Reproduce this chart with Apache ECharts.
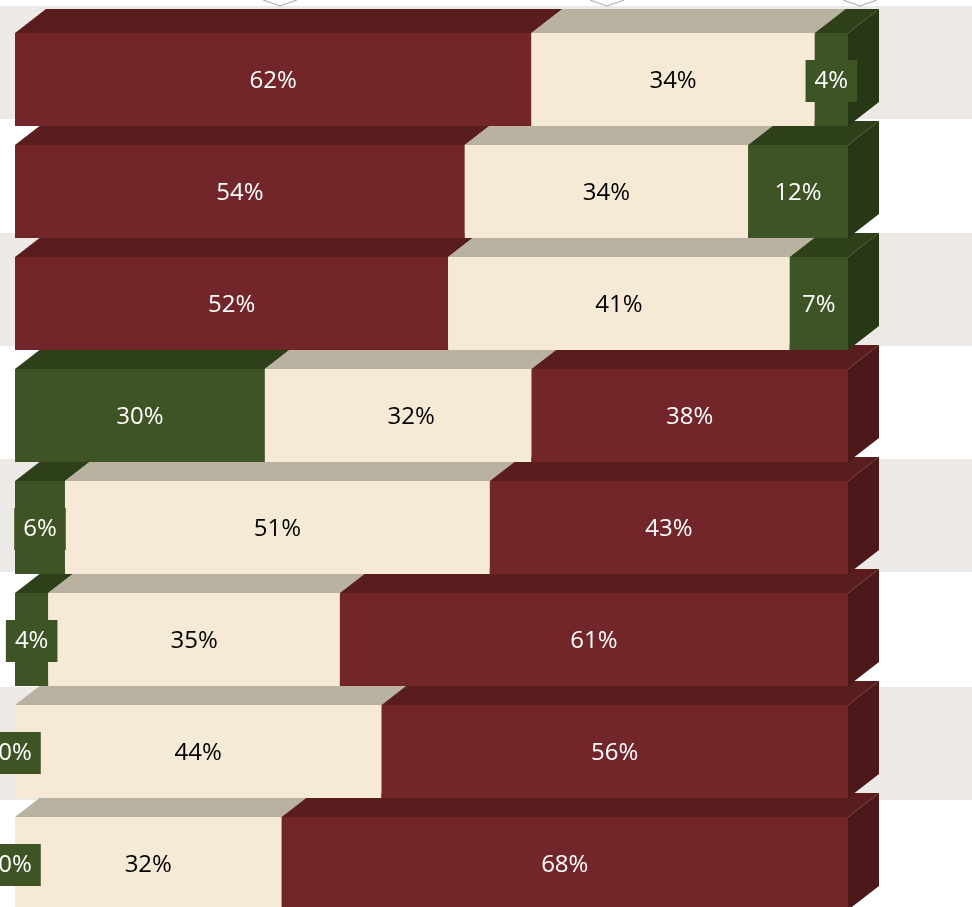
<!DOCTYPE html>
<html>
<head>
<meta charset="utf-8">
<script src="https://cdn.jsdelivr.net/npm/echarts@6/dist/echarts.min.js"></script>
<style>
  html, body { margin: 0; padding: 0; background: #ffffff; }
  #chart { width: 972px; height: 907px; }
</style>
</head>
<body>
<div id="chart"></div>
<script>
// Eight stacked 100% rows, top to bottom
const categories = ['1', '2', '3', '4', '5', '6', '7', '8'];
const redValues   = [62, 54, 52, 38, 43, 61, 56, 68];
const creamValues = [34, 34, 41, 32, 51, 35, 44, 32];
const greenValues = [4, 12, 7, 30, 6, 4, 0, 0];
// rows whose stack starts with the green segment
const greenFirst  = [false, false, false, true, true, true, true, true];

// face colours of the extruded segments
const palette = {
  red:   { front: '#732629', top: '#591D1E', side: '#4C1819', text: '#FFFFFF', box: false },
  cream: { front: '#F6EAD6', top: '#BAB2A0', side: '#A39B87', text: '#000000', box: false },
  green: { front: '#3E5424', top: '#2D4019', side: '#283814', text: '#FFFFFF', box: true }
};
const DEPTH_X = 31;   // extrusion offset to the right
const DEPTH_Y = 24;   // extrusion offset upwards
const LABEL_FONT = '24px "Open Sans", "Noto Sans", sans-serif';
// hand-placed label: row 4's middle label sits a little right of centre
const labelNudgeX = { '3-cream': 13 };

// alternating grey stripes behind the rows
const stripeTops = [6, 233, 459, 687];
const stripeHeight = 113;
// small outlined markers peeking in at the top edge
const markerCenters = [280, 607, 860];

function renderRow(params, api) {
  const i = api.value(0);
  const segs = greenFirst[i]
    ? [['green', greenValues[i]], ['cream', creamValues[i]], ['red', redValues[i]]]
    : [['red', redValues[i]], ['cream', creamValues[i]], ['green', greenValues[i]]];
  const bandSize = api.size([0, 1])[1];
  const h = bandSize * 0.83;
  const cy = api.coord([0, i])[1];
  const yTop = cy - h / 2;
  const yBot = cy + h / 2;

  const faces = [];
  const labels = [];
  let acc = 0;
  let lastKey = null;
  let endX = 0;

  segs.forEach(([key, v]) => {
    const x0 = api.coord([acc, i])[0];
    acc += v;
    const x1 = api.coord([acc, i])[0];
    const c = palette[key];
    if (v > 0) {
      faces.push({
        type: 'polygon',
        shape: { points: [[x0, yTop], [x1, yTop], [x1 + DEPTH_X, yTop - DEPTH_Y], [x0 + DEPTH_X, yTop - DEPTH_Y]] },
        style: { fill: c.top }
      });
      faces.push({
        type: 'rect',
        shape: { x: x0, y: yTop, width: x1 - x0, height: h },
        style: { fill: c.front }
      });
      lastKey = key;
      endX = x1;
    }
    labels.push({
      type: 'text',
      style: {
        text: v + '%',
        x: (x0 + x1) / 2 + (labelNudgeX[i + '-' + key] || 0),
        y: cy + 1.5,
        align: 'center',
        verticalAlign: 'middle',
        fill: c.text,
        font: LABEL_FONT,
        lineHeight: 24,
        backgroundColor: c.box ? c.front : 'transparent',
        padding: c.box ? [9, 9] : 0
      }
    });
  });

  if (lastKey) {
    faces.push({
      type: 'polygon',
      shape: { points: [[endX, yTop], [endX + DEPTH_X, yTop - DEPTH_Y], [endX + DEPTH_X, yBot - DEPTH_Y], [endX, yBot]] },
      style: { fill: palette[lastKey].side }
    });
  }

  return { type: 'group', children: faces.concat(labels) };
}

const chart = echarts.init(document.getElementById('chart'), null, { renderer: 'canvas' });

const graphicElements = [];
stripeTops.forEach(t => {
  graphicElements.push({
    type: 'rect', left: 0, top: t, z: -10,
    shape: { x: 0, y: 0, width: 972, height: stripeHeight },
    style: { fill: '#ECE9E6' }
  });
});
markerCenters.forEach(cx => {
  graphicElements.push({
    type: 'polyline', z: -5,
    shape: { points: [[cx - 17, 0], [cx, 6], [cx + 17, 0]] },
    style: { stroke: '#A8A8A8', lineWidth: 1, fill: null }
  });
});

chart.setOption({
  animation: false,
  backgroundColor: '#ffffff',
  grid: { left: 15, right: 124, top: 23.5, height: 896, outerBoundsMode: 'none', containLabel: false },
  xAxis: { type: 'value', min: 0, max: 100, show: false },
  yAxis: { type: 'category', data: categories, inverse: true, show: false },
  graphic: { elements: graphicElements },
  series: [{
    type: 'custom',
    renderItem: renderRow,
    encode: { y: 0 },
    // lower rows first so each upper row overlaps the one beneath it
    data: categories.map((_, k) => [categories.length - 1 - k]),
    clip: false
  }]
});
</script>
</body>
</html>
